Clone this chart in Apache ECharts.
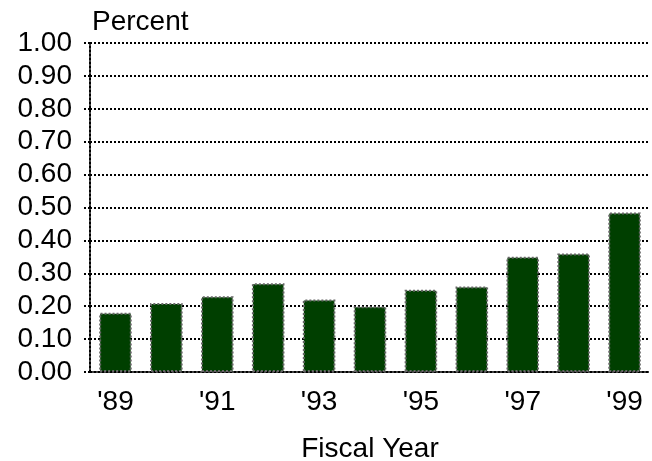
<!DOCTYPE html>
<html>
<head>
<meta charset="utf-8">
<script src="https://cdn.jsdelivr.net/npm/echarts@6/dist/echarts.min.js"></script>
<style>
  html, body { margin: 0; padding: 0; background: #fff; }
  #main { width: 652px; height: 461px; }
</style>
</head>
<body>
<div id="main"></div>
<script>
// fiscal years 1989..1999
const years = ["'89", "'90", "'91", "'92", "'93", "'94", "'95", "'96", "'97", "'98", "'99"];
const percent = [0.18, 0.21, 0.23, 0.27, 0.22, 0.20, 0.25, 0.26, 0.35, 0.36, 0.485];

const font = 'Liberation Sans, Arial, sans-serif';
const myChart = echarts.init(document.getElementById('main'));

const option = {
  animation: false,
  grid: { left: 90, right: 2, top: 43, bottom: 89, outerBoundsMode: 'none', containLabel: false },
  xAxis: {
    type: 'category',
    data: years,
    name: 'Fiscal Year',
    nameLocation: 'middle',
    nameGap: 63,
    nameTextStyle: { color: '#000', fontSize: 28, fontFamily: font },
    axisLine: { lineStyle: { color: '#000', width: 2, type: 'dotted' } },
    axisTick: { alignWithLabel: true, interval: 0, length: 5, lineStyle: { color: '#000', width: 2 } },
    axisLabel: { interval: 1, color: '#000', fontSize: 28, fontFamily: font, margin: 16 }
  },
  yAxis: {
    type: 'value',
    min: 0,
    max: 1,
    interval: 0.1,
    name: 'Percent',
    nameLocation: 'end',
    nameGap: 21,
    nameTextStyle: { color: '#000', fontSize: 28, fontFamily: font, align: 'left', verticalAlign: 'middle', padding: [0, 0, 0, 2] },
    axisLine: { show: true, lineStyle: { color: '#000', width: 2, type: 'dotted' } },
    axisTick: { show: true, length: 6, lineStyle: { color: '#000', width: 2, type: 'dotted' } },
    axisLabel: {
      color: '#000', fontSize: 28, fontFamily: font, margin: 18,
      formatter: v => v.toFixed(2)
    },
    splitLine: { lineStyle: { color: '#000', width: 2, type: 'dotted' } }
  },
  series: [
    {
      type: 'bar',
      data: percent,
      barCategoryGap: '36%',
      itemStyle: {
        color: '#003f00',
        borderColor: '#666',
        borderWidth: 2,
        borderType: 'dotted'
      }
    }
  ]
};

option && myChart.setOption(option);
</script>
</body>
</html>
